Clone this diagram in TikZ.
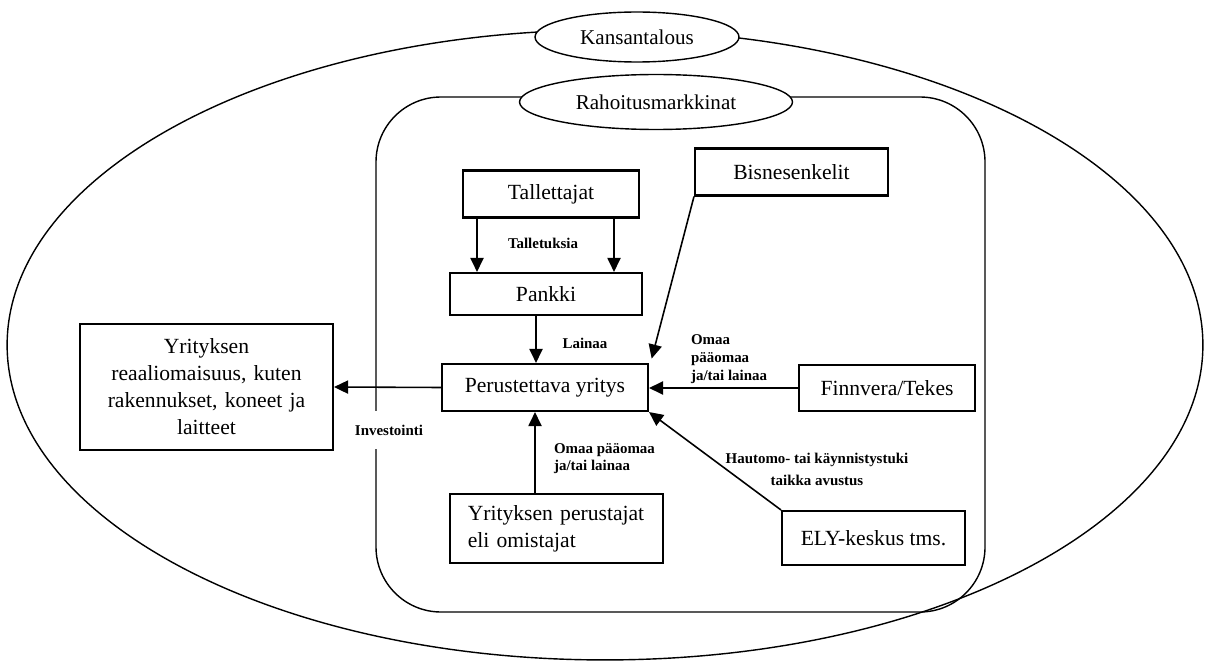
\documentclass[tikz,border=0pt]{standalone}
\usepackage{fontspec}
\setmainfont{Liberation Serif}
\usetikzlibrary{arrows.meta,shapes.geometric}
\begin{document}
\begin{tikzpicture}[x=0.02cm,y=-0.02cm,
  boxtxt/.style={font=\fontsize{12.3}{15.4}\selectfont},
  box/.style={draw,line width=1.2pt,boxtxt,inner sep=2pt},
  oval/.style={draw,ellipse,line width=0.8pt,fill=white,font=\fontsize{12}{14}\selectfont,inner sep=0pt},
  lbl/.style={font=\fontsize{8.5}{10}\selectfont\bfseries,inner sep=1pt},
  arr/.style={line width=0.9pt,-{Triangle[length=8pt,width=7.5pt]}}]
\useasboundingbox (0,0) rectangle (1206,662);
% outer ellipse
\draw[line width=0.8pt] (605,345) ellipse [x radius=11.96cm, y radius=6.3cm];
\node[oval,minimum width=4.08cm,minimum height=1.0cm] (kans) at (637,37) {Kansantalous};
% rounded frame
\draw[line width=0.8pt,rounded corners=1.3cm] (376,97) rectangle (985,612);
\node[oval,minimum width=5.46cm,minimum height=1.1cm] (rah) at (656,102) {Rahoitusmarkkinat};
% boxes
\node[box,minimum width=3.52cm,minimum height=0.94cm] (tal) at (551,194) {Tallettajat};
\node[box,minimum width=3.84cm,minimum height=0.84cm] (pan) at (546,294) {Pankki};
\node[box,minimum width=4.12cm,minimum height=0.94cm] (per) at (545,387.5) {Perustettava yritys};
\node[box,minimum width=3.86cm,minimum height=0.94cm] (bis) at (791.5,172) {Bisnesenkelit};
\node[box,minimum width=3.52cm,minimum height=0.92cm] (fin) at (887,388) {Finnvera/Tekes};
\node[box,minimum width=3.66cm,minimum height=1.08cm] (ely) at (873.5,538) {ELY-keskus tms.};
\node[box,minimum width=4.26cm,minimum height=1.38cm,text width=3.55cm,align=left] (yp) at (556.5,528.5) {Yrityksen perustajat\\eli omistajat};
\node[box,minimum width=5.06cm,minimum height=2.52cm,text width=4.8cm,align=center] (yr) at (206.5,387) {Yrityksen\\reaaliomaisuus, kuten\\rakennukset, koneet ja\\laitteet};
% helper coordinates
\coordinate (xa) at (477,0);
\coordinate (xb) at (614,0);
\coordinate (xc) at (536,0);
\coordinate (xd) at (535,0);
% arrows
\draw[arr] (tal.south -| xa) -- (pan.north -| xa);
\draw[arr] (tal.south -| xb) -- (pan.north -| xb);
\draw[arr] (pan.south -| xc) -- (per.north -| xc);
\draw[arr] (bis.south west) -- ([xshift=1.5pt,yshift=2.5pt]per.north east);
\draw[arr] (fin.west) -- (per.east |- fin.west);
\draw[arr] (ely.north west) -- (per.south east);
\draw[arr] (yp.north -| xd) -- (per.south -| xd);
% labels
\node[lbl] (l1) at (543,243) {Talletuksia};
\node[lbl] (l2) at (585,343) {Lainaa};
\node[lbl,anchor=north west,align=left] (l3) at (689,333) {Omaa\\pääomaa\\ja/tai lainaa};
\node[lbl,anchor=north west,align=left] (l4) at (552,441) {Omaa pääomaa\\ja/tai lainaa};
\node[lbl,align=center,font=\fontsize{8.5}{12.5}\selectfont\bfseries] (l5) at (817,469) {Hautomo- tai käynnistystuki\\taikka avustus};
\draw[arr] (per.west) -- (yr.east);
\node[lbl,fill=white,inner ysep=8pt] (l6) at (389,430) {Investointi};
\end{tikzpicture}
\end{document}
